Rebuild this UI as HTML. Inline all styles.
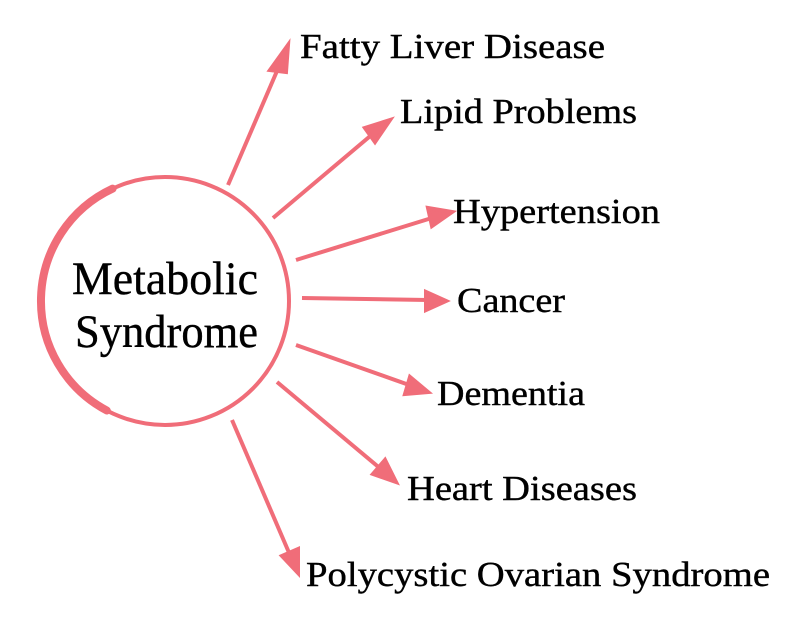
<!DOCTYPE html>
<html><head><style>
html,body{margin:0;padding:0;background:#fff;}
svg{display:block;}
text{font-family:"Liberation Serif",serif;fill:#000;stroke:#000;stroke-width:0.4;}
</style></head><body>
<svg width="800" height="637" viewBox="0 0 800 637" xmlns="http://www.w3.org/2000/svg">
<g fill="none" stroke="#f06d79">
<circle cx="165" cy="301" r="124" stroke-width="4"/>
<path d="M112.6,188.6 A124,124 0 0 0 106.8,410.5" stroke-width="8" stroke-linecap="round"/>
</g>
<g stroke="#f06d79" stroke-width="4" fill="#f06d79">
<line x1="228" y1="185" x2="280" y2="64"/><polygon points="288,45 270,70 286,72"/>
<line x1="273" y1="218" x2="375" y2="132"/><polygon points="390,120 365,128 375,142"/>
<line x1="296" y1="260" x2="435" y2="217"/><polygon points="452,212 428,208 432,226"/>
<line x1="302" y1="298" x2="428" y2="300"/><polygon points="446,301 426,292 426,310"/>
<line x1="296" y1="345" x2="412" y2="386"/><polygon points="428,392 410,377 405,394"/>
<line x1="277" y1="382" x2="382" y2="470"/><polygon points="396,482 385,460 373,474"/>
<line x1="232" y1="420" x2="290" y2="555"/><polygon points="298,573 298,549 282,556"/>
</g>
<text x="72" y="294" font-size="47" textLength="186" lengthAdjust="spacingAndGlyphs">Metabolic</text>
<text x="75" y="347" font-size="47" textLength="183" lengthAdjust="spacingAndGlyphs">Syndrome</text>
<g font-size="35">
<text x="300" y="58" textLength="305" lengthAdjust="spacingAndGlyphs">Fatty Liver Disease</text>
<text x="400" y="123" textLength="237" lengthAdjust="spacingAndGlyphs">Lipid Problems</text>
<text x="453" y="223" textLength="207" lengthAdjust="spacingAndGlyphs">Hypertension</text>
<text x="457" y="312" textLength="108" lengthAdjust="spacingAndGlyphs">Cancer</text>
<text x="437" y="405" textLength="148" lengthAdjust="spacingAndGlyphs">Dementia</text>
<text x="407" y="500" textLength="230" lengthAdjust="spacingAndGlyphs">Heart Diseases</text>
<text x="306" y="586" textLength="464" lengthAdjust="spacingAndGlyphs">Polycystic Ovarian Syndrome</text>
</g>
</svg>
</body></html>
